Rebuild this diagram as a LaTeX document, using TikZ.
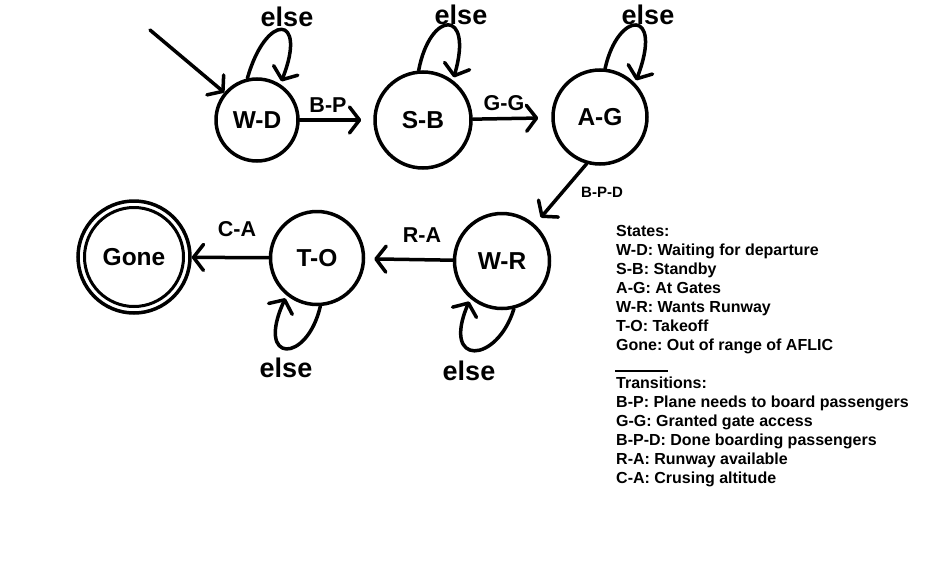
\documentclass[tikz,border=0pt]{standalone}
\usepackage{fontspec}
\setmainfont{Liberation Sans}
\usetikzlibrary{arrows.meta}
\frenchspacing
\begin{document}
\begin{tikzpicture}[x=1pt,y=-1pt,
  stnode/.style={circle,draw,line width=3.5pt,minimum size=#1,inner sep=0pt,
    font=\fontsize{24.5}{27}\selectfont\bfseries},
  arr/.style={line width=3.5pt,line cap=round,line join=round,
    -{Straight Barb[length=10pt,width=26pt,line cap=round,line join=round]}},
  loop/.style={arr,shorten >=3pt},
  lbl/.style={inner sep=0pt,font=\fontsize{21.5}{24}\selectfont\bfseries},
  elselbl/.style={inner sep=0pt,font=\fontsize{27}{30}\selectfont\bfseries},
  leg/.style={inner sep=0pt,font=\fontsize{16}{19}\selectfont\bfseries}]
\fill[white] (0,0) rectangle (940,565);
\useasboundingbox (0,0) rectangle (940,565);

% states
\node[stnode=82pt] (wd) at (257,120) {W-D};
\node[stnode=96pt] (sb) at (423,120) {S-B};
\node[stnode=94pt] (ag) at (600,117) {A-G};
\node[stnode=95pt] (wr) at (502,261) {W-R};
\node[stnode=93pt] (tko) at (317,258) {T-O};
\node[stnode=112pt] (gone) at (134,257) {Gone};
\draw[line width=3pt] (gone.center) circle[radius=49.5];

% initial arrow
\coordinate (init) at (150,30);
\draw[arr] (init) -- (wd);

% transitions
\draw[arr,shorten >=12pt] (wd) -- (sb);
\draw[arr,shorten >=13pt] (sb) -- (ag);
\draw[arr,shorten >=9pt] (ag.-106) -- (wr.48);
\draw[arr,shorten >=9pt] (wr) -- (tko);
\draw[arr] (tko) -- (gone);

% self loops
\draw[loop] (wd.103) .. controls (266,12) and (308,14) .. (wd.57);
\draw[loop] (sb.95) .. controls (430,10) and (474,8) .. (sb.53);
\draw[loop] (ag.84) .. controls (618,10) and (664,8) .. (ag.44);
\draw[loop] (wr.-76) .. controls (497,364) and (441,367) .. (wr.-130);
\draw[loop] (tko.-86) .. controls (307,364) and (255,364) .. (tko.-129);

% labels
\node[lbl] (lbp) at (328,105) {B-P};
\node[lbl] (lgg) at (504,103) {G-G};
\node[inner sep=0pt,font=\fontsize{15}{18}\selectfont\bfseries] (lbpd) at (602,192) {B-P-D};
\node[lbl] (lra) at (422,235) {R-A};
\node[lbl] (lca) at (237,229) {C-A};

\node[elselbl] (e1) at (287,17) {else};
\node[elselbl] (e2) at (461,15) {else};
\node[elselbl] (e3) at (648,15) {else};
\node[elselbl] (e4) at (286,368) {else};
\node[elselbl] (e5) at (469,371) {else};

% legend
\foreach \txt [count=\i from 0] in {States:,W-D: Waiting for departure,S-B: Standby,A-G: At Gates,W-R: Wants Runway,T-O: Takeoff,Gone: Out of range of AFLIC}
  \node[leg,anchor=base west] (s\i) at (616,{236+19*\i}) {\txt};
\coordinate (r1) at (615,371);
\coordinate (r2) at (668,371);
\draw[line width=2pt] (r1) -- (r2);
\foreach \txt [count=\i from 0] in {Transitions:,B-P: Plane needs to board passengers,G-G: Granted gate access,B-P-D: Done boarding passengers,R-A: Runway available,C-A: Crusing altitude}
  \node[leg,anchor=base west] (t\i) at (616,{388+19*\i}) {\txt};
\end{tikzpicture}
\end{document}
